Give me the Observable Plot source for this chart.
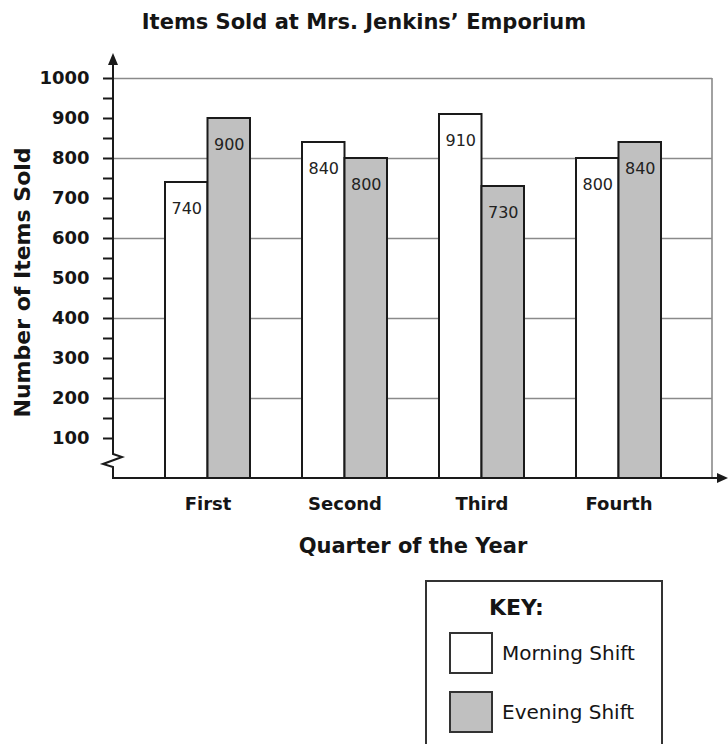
<!DOCTYPE html>
<html>
<head>
<meta charset="utf-8">
<script src="https://cdn.jsdelivr.net/npm/d3@7"></script>
<script src="https://cdn.jsdelivr.net/npm/@observablehq/plot@0.6"></script>
<style>
html, body { margin: 0; padding: 0; background: #fff; }
#page { position: relative; width: 728px; height: 744px; overflow: hidden; font-family: "DejaVu Sans", sans-serif; color: #151515; }
#title { height: 44px; line-height: 44px; text-align: center; font-weight: bold; font-size: 21px; }
#chart svg { display: block; }
#key { position: absolute; left: 425px; top: 580px; width: 234px; height: 170px; border: 2px solid #333; box-sizing: content-box; background: #fff; }
#key .ktitle { position: absolute; left: 62px; top: 12px; font-weight: bold; font-size: 22px; line-height: 28px; }
#key .sw { position: absolute; left: 22px; width: 40px; height: 38px; border: 2px solid #333; }
#key .lab { position: absolute; left: 75px; font-size: 20px; line-height: 24px; }
</style>
</head>
<body>
<div id="page">
  <div id="title">Items Sold at Mrs. Jenkins’ Emporium</div>
  <div id="chart"></div>
  <div id="key"><div class="ktitle">KEY:</div></div>
</div>
<script>
// ---- data ----
const quarters = ["First", "Second", "Third", "Fourth"];
const morningShift = [740, 840, 910, 800];
const eveningShift = [900, 800, 730, 840];
const seriesNames = ["Morning Shift", "Evening Shift"];
const yTickValues = [100, 150, 200, 250, 300, 350, 400, 450, 500, 550, 600, 650, 700, 750, 800, 850, 900, 950, 1000];
const gridValues = [200, 400, 600, 800, 1000];
const yLabel = "Number of Items Sold";
const xLabel = "Quarter of the Year";

// ---- styles ----
const morningFill = "#ffffff";
const eveningFill = "#c0c0c0";
const ink = "#1a1a1a";
const gridColor = "#8a8a8a";

const rows = quarters.map((q, i) => ({quarter: q, morning: morningShift[i], evening: eveningShift[i]}));
const half = 42.5;

const plot = Plot.plot({
  width: 728,
  height: 530,
  marginLeft: 113,
  marginRight: 16,
  marginTop: 34,
  marginBottom: 96,
  style: {fontFamily: "DejaVu Sans", fontWeight: "bold", fontSize: "18px", background: "white", color: "#151515", overflow: "visible"},
  x: {domain: quarters, paddingInner: 0.38, paddingOuter: 0.372, tickSize: 0, tickPadding: 19, label: null},
  y: {domain: [0, 1000], ticks: yTickValues, tickFormat: d => (d % 100 === 0 ? String(d) : ""), tickSize: 10, tickPadding: 14, label: null},
  marks: [
    Plot.ruleY(gridValues, {stroke: gridColor, strokeWidth: 1.6}),
    Plot.barY(rows, {x: "quarter", y: "morning", fill: morningFill, stroke: ink, strokeWidth: 2, insetRight: half}),
    Plot.barY(rows, {x: "quarter", y: "evening", fill: eveningFill, stroke: ink, strokeWidth: 2, insetLeft: half}),
    Plot.text(rows, {x: "quarter", y: "morning", text: d => String(d.morning), dx: -half / 2, dy: 26, fontSize: 16, fontWeight: "normal", fill: "#222"}),
    Plot.text(rows, {x: "quarter", y: "evening", text: d => String(d.evening), dx: half / 2, dy: 26, fontSize: 16, fontWeight: "normal", fill: "#222"}),
    Plot.text([yLabel], {frameAnchor: "left", textAnchor: "middle", rotate: -90, dx: -91, dy: 4, fontSize: 22}),
    Plot.text([xLabel], {frameAnchor: "bottom", textAnchor: "middle", dy: 74, fontSize: 21})
  ]
});
document.getElementById("chart").appendChild(plot);

// ---- axis decorations, positioned through Plot's scales ----
const svg = d3.select(plot.tagName.toLowerCase() === "svg" ? plot : plot.querySelector("svg"));
svg.selectAll('g[aria-label="y-axis tick"]').attr("stroke-width", 2).attr("stroke", ink);
const ys = plot.scale("y"), xs = plot.scale("x");
const x0 = xs.range[0], x1 = xs.range[1];
const yb = ys.apply(0), yt = ys.apply(1000);
const deco = svg.append("g").attr("fill", "none").attr("stroke", ink).attr("stroke-width", 2);
// right border
deco.append("line").attr("x1", x1).attr("x2", x1).attr("y1", yb).attr("y2", yt).attr("stroke", gridColor).attr("stroke-width", 1.6);
// y axis with break
deco.append("path").attr("stroke-linejoin", "miter").attr("d",
  `M${x0},${yb}L${x0},${yb - 11}L${x0 - 10},${yb - 14}L${x0 + 9},${yb - 21}L${x0},${yb - 24}L${x0},${yt - 16}`);
svg.append("path").attr("fill", ink).attr("d", `M${x0},${yt - 25}L${x0 - 5},${yt - 13}L${x0 + 5},${yt - 13}Z`);
// x axis with arrow
deco.append("path").attr("d", `M${x0 - 1},${yb}L${x1 + 6},${yb}`);
svg.append("path").attr("fill", ink).attr("d", `M${x1 + 16},${yb}L${x1 + 5},${yb - 5}L${x1 + 5},${yb + 5}Z`);

// ---- legend ----
const key = document.getElementById("key");
const fills = [morningFill, eveningFill];
seriesNames.forEach((name, i) => {
  const sw = document.createElement("div");
  sw.className = "sw";
  sw.style.top = (50 + i * 59) + "px";
  sw.style.background = fills[i];
  key.appendChild(sw);
  const lab = document.createElement("div");
  lab.className = "lab";
  lab.style.top = (59 + i * 59) + "px";
  lab.textContent = name;
  key.appendChild(lab);
});
</script>
</body>
</html>
